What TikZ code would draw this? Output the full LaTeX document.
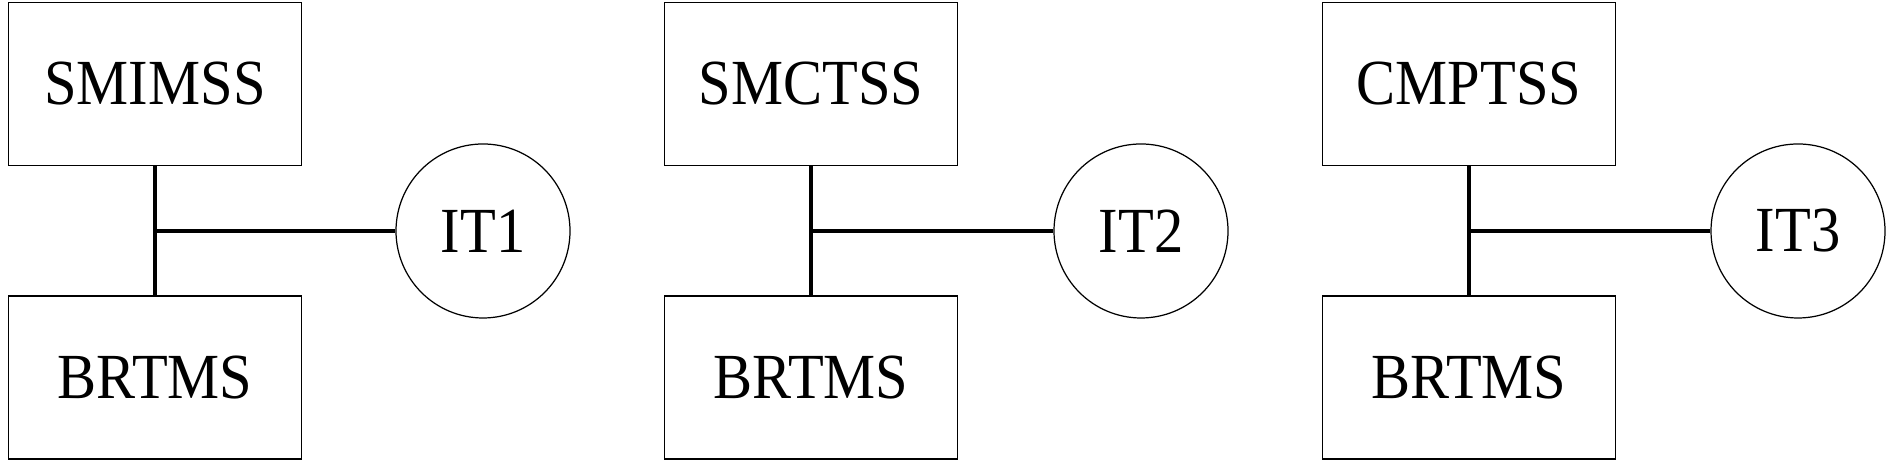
\documentclass[tikz,border=0pt]{standalone}
\usepackage{fontspec}
\setmainfont[FakeStretch=0.91]{Liberation Serif}
\tikzset{
  sysbox/.style={draw, line width=0.35pt, minimum width=2.93cm, minimum height=1.63cm, inner sep=0pt, font=\fontsize{18.3}{21}\selectfont},
  itnode/.style={draw, circle, line width=0.35pt, minimum size=1.74cm, inner sep=0pt, font=\fontsize{18.3}{21}\selectfont},
  link/.style={line width=0.9pt}
}

\begin{document}
\begin{tikzpicture}
            \useasboundingbox (0,0) rectangle (18.94,4.63);
            \node[sysbox] (smimss) at (1.55,3.79) {SMIMSS};
            \node[sysbox] (brtms1) at (1.55,0.855) {BRTMS};
            \node[itnode] (it1) at (4.83,2.32) {IT1};
            \coordinate (j1) at (smimss.south |- it1.west);
            \draw[link] (smimss.south)--(brtms1.north);
            \draw[link] (j1)--(it1.west);
            \node[sysbox] (smctss) at (8.11,3.79) {SMCTSS};
            \node[sysbox] (brtms2) at (8.11,0.855) {BRTMS};
            \node[itnode] (it2) at (11.41,2.32) {IT2};
            \coordinate (j2) at (smctss.south |- it2.west);
            \draw[link] (smctss.south)--(brtms2.north);
            \draw[link] (j2)--(it2.west);
            \node[sysbox] (cmptss) at (14.69,3.79) {CMPTSS};
            \node[sysbox] (brtms3) at (14.69,0.855) {BRTMS};
            \node[itnode] (it3) at (17.98,2.32) {IT3};
            \coordinate (j3) at (cmptss.south |- it3.west);
            \draw[link] (cmptss.south)--(brtms3.north);
            \draw[link] (j3)--(it3.west);
        \end{tikzpicture}
\end{document}
